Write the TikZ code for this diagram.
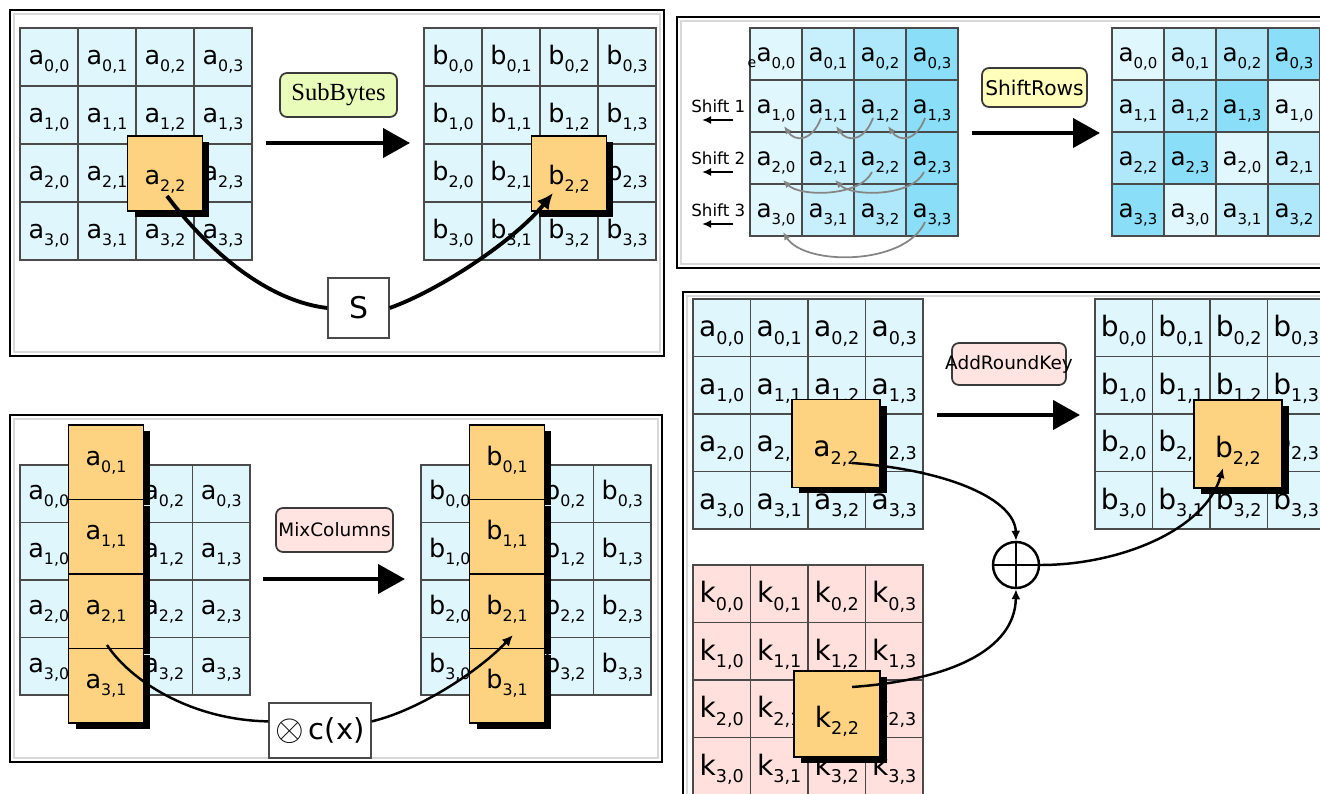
\documentclass[tikz,border=0pt]{standalone}
\usepackage{fix-cm}
\usepackage{fontspec}
\setmainfont{DejaVu Sans}
\newfontfamily\lserif{Liberation Serif}
\usetikzlibrary{arrows.meta,shadows}
\definecolor{cellblue}{HTML}{DFF6FD}
\definecolor{cellpink}{HTML}{FFE0DC}
\definecolor{orangec}{HTML}{FDD280}
\definecolor{gridline}{HTML}{4A4A4A}
\definecolor{subfill}{HTML}{EAFCBA}
\definecolor{shiftfill}{HTML}{FFFFBB}
\definecolor{mixfill}{HTML}{FFE4E1}
\definecolor{framegray}{HTML}{D8D8D8}
\definecolor{lblborder}{HTML}{3A3A3A}
\definecolor{sr0}{HTML}{E0F7FE}
\definecolor{sr1}{HTML}{C8F0FC}
\definecolor{sr2}{HTML}{AEE8FA}
\definecolor{sr3}{HTML}{8ADEF8}
\definecolor{arcgray}{HTML}{858585}
\newcommand\lab[2]{#1\raisebox{-4pt}{\fontsize{9}{9}\selectfont#2}}
\newcommand\labs[2]{#1\raisebox{-3.8pt}{\fontsize{8.5}{8.5}\selectfont#2}}
\newcommand\labb[2]{#1\raisebox{-4.3pt}{\fontsize{10}{10}\selectfont#2}}
\tikzset{
  frameout/.style={draw=black,line width=1.1pt},
  framein/.style={draw=framegray,line width=1.1pt},
  cell/.style={draw=gridline,line width=0.8pt,inner sep=0pt,minimum width=#1,minimum height=#1,text depth=1.5pt,font=\fontsize{14.5}{14.5}\selectfont},
  bluec/.style={fill=cellblue},
  pinkc/.style={fill=cellpink},
  bh/.style={text height=#1},
  orb/.style={draw=black,line width=1pt,fill=orangec,inner sep=0pt,text depth=1.5pt,font=\fontsize{14.5}{14.5}\selectfont,drop shadow={shadow xshift=0.14cm,shadow yshift=-0.12cm,fill=black,opacity=1}},
  lbl/.style={draw=lblborder,line width=1pt,rounded corners=4pt,inner sep=0pt},
  bigarrow/.style={line width=2.4pt,-{Triangle[length=0.54cm,width=0.58cm]}},
  flow/.style={line width=2.2pt},
  thinflow/.style={line width=1.4pt},
  opbox/.style={draw=gridline,line width=0.8pt,fill=white,inner sep=0pt},
  arc/.style={draw=arcgray,line width=1pt,-{Latex[length=0.16cm,width=0.14cm]}},
}
\begin{document}
\begin{tikzpicture}[x=0.02cm,y=-0.02cm]
\useasboundingbox (0,0) rectangle (1320,794);
\clip (0,0) rectangle (1320,794);
\fill[white] (0,0) rectangle (1320,794);

%% ---------------- Panel 1: SubBytes ----------------
\draw[frameout] (10,10) rectangle (664,356);
\draw[framein] (14,14) rectangle (660,352);
\foreach \r in {0,...,3}{\foreach \c in {0,...,3}{
  \node[cell=1.16cm,bluec,bh=10pt] (p1a\r\c) at ({49+58*\c},{57+58*\r}) {\lab{a}{\r,\c}};
  \node[cell=1.16cm,bluec,bh=10pt] (p1b\r\c) at ({453+58*\c},{57+58*\r}) {\lab{b}{\r,\c}};
}}
\node[orb,minimum size=1.5cm,text height=14.5pt] (p1ao) at (165,173.5) {\lab{a}{2,2}};
\node[orb,minimum size=1.5cm,text height=14.5pt] (p1bo) at (569,173.5) {\lab{b}{2,2}};
\node[lbl,fill=subfill,minimum width=2.34cm,minimum height=0.88cm] (p1lbl) at (338.5,95) {\makebox[0pt]{\lserif\fontsize{14}{14}\selectfont SubBytes}};
\coordinate (p1from) at (266,143);
\coordinate (p1to) at (410,143);
\draw[bigarrow] (p1from) -- (p1to);
\node[opbox,minimum width=1.22cm,minimum height=1.2cm,font=\fontsize{17}{17}\selectfont] (p1S) at (358.5,308) {S};
\coordinate (p1s) at (167,196);
\coordinate (p1e) at (553,193);
\draw[flow] (p1s) .. controls (200,240) and (260,300) .. (p1S.west);
\draw[flow,-{Latex[length=0.32cm,width=0.3cm]}] (p1S.east) .. controls (440,290) and (515,240) .. (p1e);

%% ---------------- Panel 2: ShiftRows ----------------
\draw[frameout] (677,17) rectangle (1340,268);
\draw[framein] (681,21) rectangle (1336,264);
\foreach \k/\y in {1/106,2/158,3/210}{
  \node[font=\fontsize{9.5}{9.5}\selectfont,anchor=west,inner sep=0pt] (sh\k) at (691,\y) {Shift \k};
  \coordinate (sh\k a) at (733,\y+14);
  \coordinate (sh\k b) at (702,\y+14);
  \draw[line width=1.2pt,-{Latex[length=0.18cm,width=0.16cm]}] (sh\k a) -- (sh\k b);
}
\foreach \r in {0,...,3}{\foreach \c in {0,...,3}{
  \pgfmathtruncatemacro\s{mod(\c+\r,4)}
  \node[cell=1.04cm,fill=sr\c,bh=10.5pt,font=\fontsize{14}{14}\selectfont] (p2a\r\c) at ({776+52*\c},{54+52*\r}) {\labs{a}{\r,\c}};
  \node[cell=1.04cm,fill=sr\s,bh=10.5pt,font=\fontsize{14}{14}\selectfont] (p2b\r\c) at ({1138+52*\c},{54+52*\r}) {\labs{a}{\r,\s}};
}}
\node[font=\fontsize{8}{8}\selectfont,inner sep=0pt] (p2e) at (752,64) {e};
\foreach \k in {0,1,2}{
  \coordinate (r1s\k) at ({821+52*\k},118);
  \coordinate (r1e\k) at ({784+52*\k},126);
  \draw[arc] (r1s\k) .. controls ({812+52*\k},142) and ({795+52*\k},142) .. (r1e\k);
}
\foreach \k in {0,1}{
  \coordinate (r2s\k) at ({872+52*\k},172);
  \coordinate (r2e\k) at ({783+52*\k},180);
  \draw[arc] (r2s\k) .. controls ({860+52*\k},197) and ({800+52*\k},197) .. (r2e\k);
}
\coordinate (r3s) at (925,222);
\coordinate (r3e) at (783,232);
\draw[arc] (r3s) .. controls (905,266) and (805,266) .. (r3e);
\node[lbl,fill=shiftfill,minimum width=2.1cm,minimum height=0.78cm] (p2lbl) at (1034.5,87.5) {\makebox[0pt]{\fontsize{11.5}{11.5}\selectfont ShiftRows}};
\coordinate (p2from) at (972,133);
\coordinate (p2to) at (1100,133);
\draw[bigarrow] (p2from) -- (p2to);

%% ---------------- Panel 3: MixColumns ----------------
\draw[frameout] (10,415) rectangle (662,762);
\draw[framein] (14,419) rectangle (658,758);
\foreach \r in {0,...,3}{\foreach \c in {0,...,3}{
  \node[cell=1.15cm,bluec,bh=8.5pt] (p3a\r\c) at ({48.75+57.5*\c},{493.75+57.5*\r}) {\lab{a}{\r,\c}};
  \node[cell=1.15cm,bluec,bh=8.5pt] (p3b\r\c) at ({449.75+57.5*\c},{493.75+57.5*\r}) {\lab{b}{\r,\c}};
}}
\foreach \r/\y in {0/462.25,1/536.75,2/611.25,3/685.75}{
  \node[orb,minimum width=1.5cm,minimum height=1.49cm,text height=5pt] (p3ao\r) at (106,\y) {\lab{a}{\r,1}};
}
\foreach \r/\y in {0/462.25,1/536.75,2/611.25,3/685.75}{
  \node[orb,minimum width=1.5cm,minimum height=1.49cm,text height=5pt] (p3bo\r) at (507,\y) {\lab{b}{\r,1}};
}
\node[lbl,fill=mixfill,minimum width=2.34cm,minimum height=0.88cm] (p3lbl) at (334.5,530) {\makebox[0pt]{\fontsize{10.5}{10.5}\selectfont MixColumns}};
\coordinate (p3from) at (263,579);
\coordinate (p3to) at (405,579);
\draw[bigarrow] (p3from) -- (p3to);
\node[opbox,minimum width=2.04cm,minimum height=1.1cm,font=\fontsize{16.5}{16.5}\selectfont] (p3C) at (320,730.5) {\raisebox{-1pt}{\fontsize{21}{21}\selectfont$\otimes$}\,c(x)};
\coordinate (p3s) at (107,645);
\coordinate (p3e) at (513,635);
\draw[thinflow] (p3s) .. controls (130,680) and (190,720) .. (p3C.170);
\draw[thinflow,-{Latex[length=0.22cm,width=0.2cm]}] (p3C.10) .. controls (420,710) and (480,670) .. (p3e);

%% ---------------- Panel 4: AddRoundKey ----------------
\draw[frameout] (683,292) rectangle (1340,810);
\draw[framein] (687,296) rectangle (1336,806);
\foreach \r in {0,...,3}{\foreach \c in {0,...,3}{
  \node[cell=1.15cm,bluec,bh=11.7pt,font=\fontsize{16}{16}\selectfont] (p4a\r\c) at ({721.75+57.5*\c},{327.75+57.5*\r}) {\labb{a}{\r,\c}};
  \node[cell=1.15cm,bluec,bh=11.7pt,font=\fontsize{16}{16}\selectfont] (p4b\r\c) at ({1123.75+57.5*\c},{327.75+57.5*\r}) {\labb{b}{\r,\c}};
  \node[cell=1.15cm,pinkc,bh=11.7pt,font=\fontsize{16}{16}\selectfont] (p4k\r\c) at ({721.75+57.5*\c},{593.75+57.5*\r}) {\labb{k}{\r,\c}};
}}
\node[orb,minimum size=1.76cm,text height=16.8pt,font=\fontsize{16}{16}\selectfont] (p4ao) at (836,443.5) {\labb{a}{2,2}};
\node[orb,minimum size=1.76cm,text height=16.8pt,font=\fontsize{16}{16}\selectfont] (p4bo) at (1238,444) {\labb{b}{2,2}};
\node[orb,minimum size=1.72cm,text height=16.8pt,font=\fontsize{16}{16}\selectfont] (p4ko) at (837,714) {\labb{k}{2,2}};
\node[lbl,fill=mixfill,minimum width=2.28cm,minimum height=0.84cm] (p4lbl) at (1009,364) {\makebox[0pt]{\fontsize{10.5}{10.5}\selectfont AddRoundKey}};
\coordinate (p4from) at (937,415);
\coordinate (p4to) at (1080,415);
\draw[bigarrow] (p4from) -- (p4to);
\node[draw,circle,line width=1.4pt,minimum size=0.92cm,inner sep=0pt] (xor) at (1016,565) {};
\draw[line width=1.4pt] (xor.north) -- (xor.south) (xor.west) -- (xor.east);
\coordinate (p4as) at (852,463);
\coordinate (p4ks) at (852,687);
\coordinate (p4e) at (1223,468);
\draw[thinflow,-{Latex[length=0.2cm,width=0.18cm]}] (p4as) .. controls (950,470) and (1015,500) .. (xor.north);
\draw[thinflow,-{Latex[length=0.2cm,width=0.18cm]}] (p4ks) .. controls (950,680) and (1015,650) .. (xor.south);
\draw[thinflow,-{Latex[length=0.2cm,width=0.18cm]}] (xor.east) .. controls (1120,565) and (1205,530) .. (p4e);
\end{tikzpicture}
\end{document}
